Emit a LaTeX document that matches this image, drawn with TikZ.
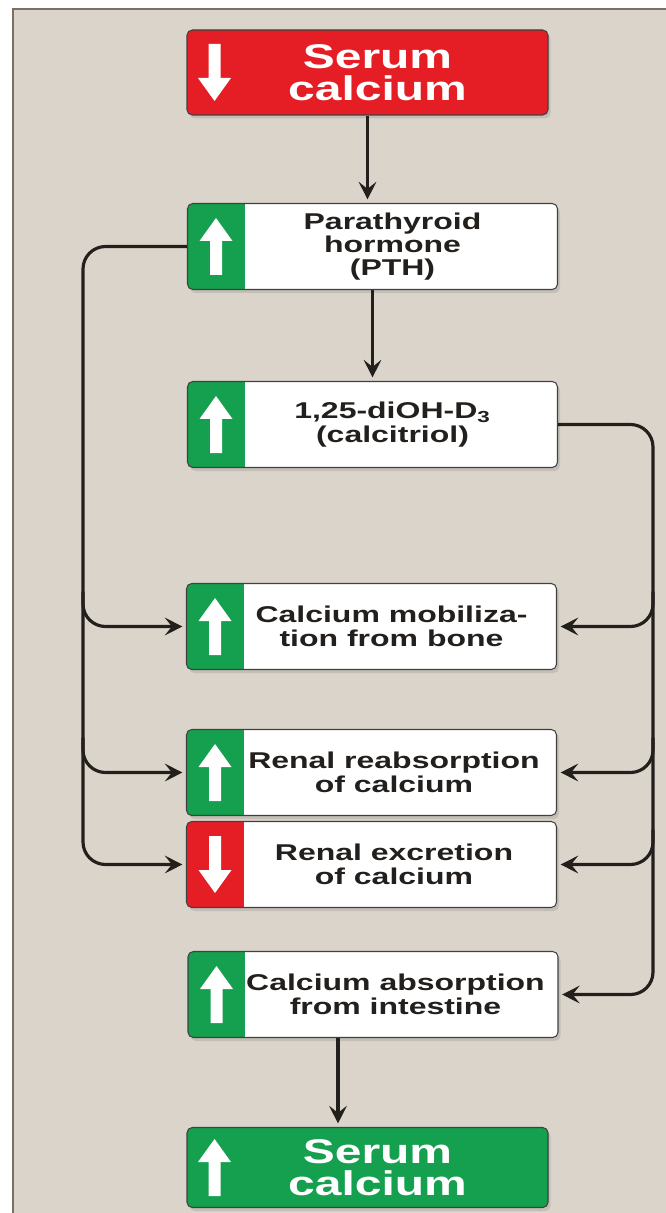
\documentclass[tikz,border=0pt]{standalone}
\usepackage{fontspec}
\setmainfont{Liberation Sans}
\newfontfamily\widesans[FakeStretch=1.4]{Liberation Sans}
\usetikzlibrary{arrows.meta, positioning, calc, shadows}
\definecolor{calred}{HTML}{E51E25}
\definecolor{calgreen}{HTML}{14A04E}
\definecolor{panel}{HTML}{DBD4CA}
\definecolor{frame}{HTML}{7A7065}
\definecolor{ink}{HTML}{231F1C}

\tikzset{
  uparrow/.pic={\fill[white, sharp corners] (-0.12,-0.57) -- (-0.12,0.11) -- (-0.33,0.11)
                -- (0,0.57) -- (0.33,0.11) -- (0.12,0.11) -- (0.12,-0.57) -- cycle;},
}

\begin{document}
\begin{tikzpicture}[
    box/.style={rectangle, rounded corners=3pt, draw=black!75, line width=0.6pt,
                fill=white, minimum width=7.40cm, minimum height=1.72cm,
                drop shadow={opacity=0.25, shadow xshift=0.05cm, shadow yshift=-0.07cm}},
    upbox/.style={box, path picture={
        \fill[calgreen, sharp corners] (path picture bounding box.south west)
          rectangle ([xshift=1.14cm]path picture bounding box.north west);
        \pic at ([xshift=0.57cm]path picture bounding box.west) {uparrow};}},
    downbox/.style={box, path picture={
        \fill[calred, sharp corners] (path picture bounding box.south west)
          rectangle ([xshift=1.14cm]path picture bounding box.north west);
        \pic[rotate=180] at ([xshift=0.57cm]path picture bounding box.west) {uparrow};}},
    serumlow/.style={box, fill=calred, minimum width=7.22cm, minimum height=1.70cm,
        path picture={\pic[rotate=180] at ([xshift=0.55cm]path picture bounding box.west) {uparrow};}},
    serumhigh/.style={box, fill=calgreen, minimum width=7.22cm, minimum height=1.60cm,
        path picture={\pic at ([xshift=0.55cm]path picture bounding box.west) {uparrow};}},
    txt/.style={font=\widesans\bfseries\fontsize{13}{13.3}\selectfont, align=center, text=ink},
    bigtxt/.style={font=\widesans\bfseries\fontsize{19.5}{18}\selectfont, align=center, text=white},
    arr/.style={-{Stealth[length=10pt, width=10pt, inset=4pt]}, line width=1.8pt, draw=ink,
                rounded corners=0.45cm, shorten >=2pt},
]
  \useasboundingbox (0,0) rectangle (13.32,-24.26);
  % panel
  \fill[panel] (0.26,-0.18) rectangle (13.32,-24.26);
  \draw[frame, line width=0.8pt] (0.26,-24.26) -- (0.26,-0.18) -- (13.32,-0.18);

  % Centre column
  \node[serumlow] (top) at (7.35, -1.45)  {};
  \node[upbox]    (pth) at (7.45, -4.93)  {};
  \node[upbox]    (cal) at (7.45, -8.49)  {};
  \node[upbox]    (mob) at (7.43, -12.53) {};
  \node[upbox]    (rea) at (7.43, -15.45) {};
  \node[downbox]  (exc) at (7.43, -17.29) {};
  \node[upbox]    (int) at (7.46, -19.89) {};
  \node[serumhigh] (bot) at (7.35, -23.35) {};

  % texts, set in the white part of each box
  \node[bigtxt] (top-t) at ([xshift=0.2cm]top.center) {Serum\\calcium};
  \node[txt] (pth-t) at ([xshift=0.4cm]pth.center) {Parathyroid\\hormone\\(PTH)};
  \node[txt] (cal-t) at ([xshift=0.4cm]cal.center) {1,25-diOH-D\textsubscript{3}\\(calcitriol)};
  \node[txt] (mob-t) at ([xshift=0.4cm]mob.center) {Calcium mobiliza-\\tion from bone};
  \node[txt] (rea-t) at ([xshift=0.45cm]rea.center) {Renal reabsorption\\of calcium};
  \node[txt] (exc-t) at ([xshift=0.45cm]exc.center) {Renal excretion\\of calcium};
  \node[txt] (int-t) at ([xshift=0.45cm]int.center) {Calcium absorption\\from intestine};
  \node[bigtxt] (bot-t) at ([xshift=0.2cm]bot.center) {Serum\\calcium};

  % trunk lines
  \coordinate (lx) at (1.66, 0);
  \coordinate (rx) at (13.06, 0);
  \coordinate (ia) at ([xshift=-0.7cm]int.south);

  % main chain
  \draw[arr] (top.south) -- (top.south |- pth.north);
  \draw[arr] (pth.south) -- (pth.south |- cal.north);
  \draw[arr] (ia) -- (ia |- bot.north);

  % PTH -> effects (left)
  \draw[arr] (pth.west) -| (lx |- mob.west) |- (exc.west);
  \draw[arr] ($(lx |- mob.west)+(0,0.7)$) |- (mob.west);
  \draw[arr] ($(lx |- rea.west)+(0,0.7)$) |- (rea.west);

  % calcitriol -> effects (right)
  \draw[arr] (cal.east) -| (rx |- mob.east) |- (int.east);
  \draw[arr] ($(rx |- mob.east)+(0,0.7)$) |- (mob.east);
  \draw[arr] ($(rx |- rea.east)+(0,0.7)$) |- (rea.east);
  \draw[arr] ($(rx |- exc.east)+(0,0.7)$) |- (exc.east);
\end{tikzpicture}
\end{document}
